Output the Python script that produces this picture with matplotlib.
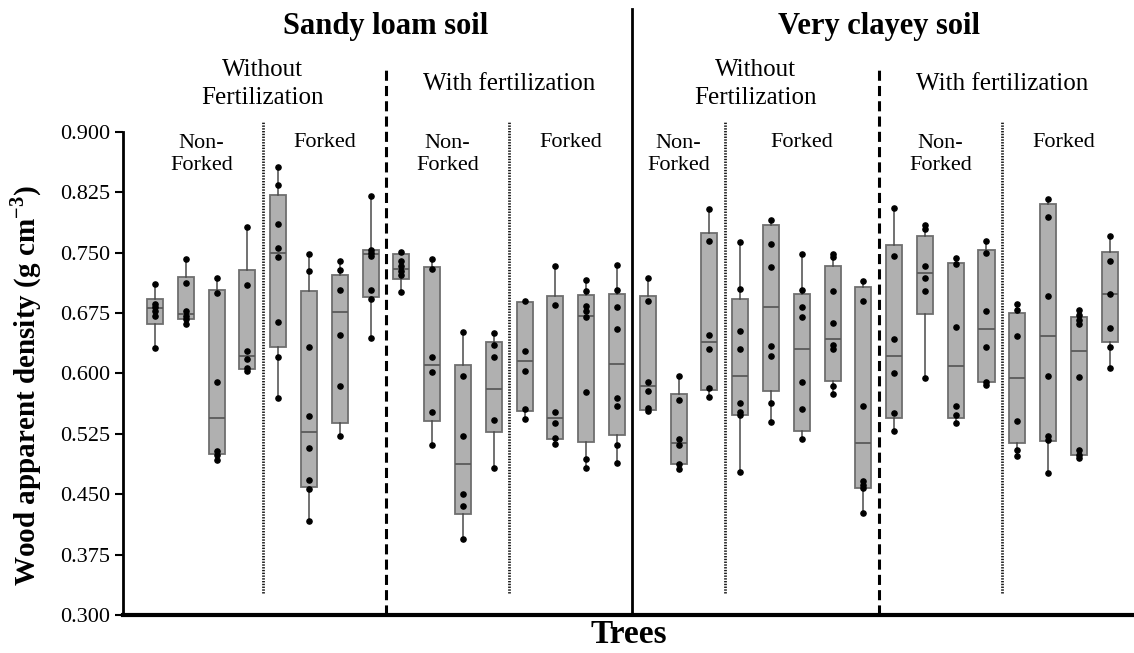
import numpy as np
import matplotlib
matplotlib.use("Agg")
import matplotlib.pyplot as plt

plt.rcParams["font.family"] = ["Liberation Serif", "DejaVu Serif"]
plt.rcParams["mathtext.fontset"] = "custom"
plt.rcParams["mathtext.rm"] = "Liberation Serif"
plt.rcParams["mathtext.bf"] = "Liberation Serif:bold"

# --- box statistics per tree (whisker low, Q1, median, Q3, whisker high) ---
whis_lo = [0.632, 0.661, 0.493, 0.603, 0.570, 0.417, 0.522, 0.644,
           0.701, 0.511, 0.395, 0.482, 0.543, 0.512, 0.482, 0.489,
           0.553, 0.481, 0.571, 0.478, 0.540, 0.519, 0.574, 0.427,
           0.528, 0.594, 0.538, 0.586, 0.498, 0.477, 0.495, 0.607]
q1 = [0.662, 0.668, 0.500, 0.605, 0.633, 0.459, 0.539, 0.695,
      0.717, 0.541, 0.426, 0.527, 0.553, 0.519, 0.515, 0.524,
      0.555, 0.487, 0.579, 0.548, 0.578, 0.528, 0.591, 0.458,
      0.545, 0.674, 0.545, 0.590, 0.514, 0.516, 0.499, 0.639]
median = [0.681, 0.674, 0.545, 0.622, 0.750, 0.527, 0.676, 0.748,
          0.730, 0.611, 0.487, 0.581, 0.616, 0.545, 0.672, 0.612,
          0.584, 0.514, 0.639, 0.597, 0.683, 0.630, 0.643, 0.514,
          0.622, 0.725, 0.609, 0.655, 0.594, 0.646, 0.628, 0.699]
q3 = [0.692, 0.720, 0.704, 0.729, 0.822, 0.703, 0.722, 0.753,
      0.749, 0.732, 0.610, 0.639, 0.689, 0.696, 0.698, 0.699,
      0.696, 0.575, 0.775, 0.692, 0.784, 0.699, 0.734, 0.708,
      0.760, 0.771, 0.737, 0.753, 0.675, 0.811, 0.670, 0.751]
whis_hi = [0.711, 0.742, 0.718, 0.782, 0.856, 0.749, 0.740, 0.820,
           0.751, 0.742, 0.652, 0.650, 0.690, 0.734, 0.716, 0.735,
           0.718, 0.597, 0.804, 0.763, 0.791, 0.749, 0.750, 0.715,
           0.805, 0.785, 0.744, 0.764, 0.686, 0.817, 0.679, 0.771]

# --- individual measurements per tree ---
samples = [
    [0.711, 0.686, 0.682, 0.677, 0.672, 0.632],
    [0.742, 0.713, 0.677, 0.672, 0.668, 0.661],
    [0.718, 0.700, 0.589, 0.504, 0.499, 0.493],
    [0.782, 0.710, 0.628, 0.618, 0.607, 0.603],
    [0.856, 0.834, 0.786, 0.756, 0.745, 0.664, 0.621, 0.570],
    [0.749, 0.727, 0.633, 0.547, 0.507, 0.468, 0.456, 0.417],
    [0.740, 0.728, 0.704, 0.648, 0.585, 0.522],
    [0.820, 0.754, 0.750, 0.746, 0.704, 0.692, 0.644],
    [0.751, 0.740, 0.733, 0.727, 0.722, 0.701],
    [0.742, 0.730, 0.621, 0.602, 0.552, 0.511],
    [0.652, 0.597, 0.522, 0.450, 0.436, 0.395],
    [0.650, 0.636, 0.620, 0.542, 0.482],
    [0.690, 0.628, 0.603, 0.556, 0.543],
    [0.734, 0.685, 0.552, 0.538, 0.520, 0.512],
    [0.716, 0.703, 0.684, 0.677, 0.670, 0.577, 0.494, 0.482],
    [0.735, 0.704, 0.682, 0.655, 0.570, 0.559, 0.511, 0.489],
    [0.718, 0.690, 0.589, 0.578, 0.557, 0.553],
    [0.597, 0.567, 0.519, 0.511, 0.487, 0.481],
    [0.804, 0.765, 0.648, 0.630, 0.582, 0.571],
    [0.763, 0.705, 0.653, 0.631, 0.563, 0.552, 0.548, 0.478],
    [0.791, 0.761, 0.732, 0.634, 0.622, 0.563, 0.540],
    [0.749, 0.704, 0.682, 0.670, 0.589, 0.556, 0.519],
    [0.749, 0.745, 0.703, 0.663, 0.636, 0.630, 0.584, 0.574],
    [0.715, 0.690, 0.560, 0.466, 0.461, 0.458, 0.427],
    [0.805, 0.746, 0.643, 0.601, 0.551, 0.528],
    [0.785, 0.780, 0.733, 0.718, 0.702, 0.594],
    [0.744, 0.736, 0.658, 0.560, 0.549, 0.538],
    [0.764, 0.750, 0.677, 0.633, 0.590, 0.586],
    [0.686, 0.679, 0.647, 0.541, 0.505, 0.498],
    [0.817, 0.795, 0.696, 0.597, 0.522, 0.517, 0.477],
    [0.679, 0.673, 0.667, 0.662, 0.596, 0.505, 0.499, 0.495],
    [0.771, 0.740, 0.699, 0.656, 0.633, 0.607],
]

yticks = [0.300, 0.375, 0.450, 0.525, 0.600, 0.675, 0.750, 0.825, 0.900]

soils = ["Sandy loam soil", "Very clayey soil"]
fert_labels = ["Without\nFertilization", "With fertilization"]
# trees per (soil, fertilization, form) group, in plotting order
group_sizes = [4, 4, 4, 4, 3, 5, 4, 4]
form_labels = ["Non-\nForked", "Forked"]

fig = plt.figure(figsize=(11.34, 6.53), dpi=100)
ax = fig.add_axes([0.1085, 0.0582, 0.8915, 0.7397])

pos = np.arange(len(median))
stats = [dict(whislo=lo, q1=a, med=m, q3=b, whishi=hi)
         for lo, a, m, b, hi in zip(whis_lo, q1, median, q3, whis_hi)]
ax.bxp(stats, positions=pos, widths=0.52, patch_artist=True,
       showcaps=False, showfliers=False,
       boxprops=dict(facecolor="#b0b0b0", edgecolor="#6e6e6e", linewidth=1.3),
       medianprops=dict(color="#5a5a5a", linewidth=1.3),
       whiskerprops=dict(color="#4a4a4a", linewidth=1.1))

for p, vals in zip(pos, samples):
    ax.scatter(np.full(len(vals), p), vals, s=14, color="black", zorder=5)

ax.set_xlim(-1.04, 31.79)
ax.set_ylim(0.3, 0.9)
ax.set_yticks(yticks)
ax.set_yticklabels([f"{t:.3f}" for t in yticks], fontsize=16)
ax.set_xticks([])
ax.tick_params(axis="y", direction="out", length=6, width=1.5)
for side in ("top", "right"):
    ax.spines[side].set_visible(False)
ax.spines["left"].set_linewidth(2)
ax.spines["bottom"].set_linewidth(3)

# group separators
edges = np.cumsum(group_sizes) - 0.5
ax.plot([edges[3], edges[3]], [0.3, 1.0525], color="black", lw=2, clip_on=False)
for e in (edges[1], edges[5]):
    ax.plot([e, e], [0.3, 0.98], color="black", lw=2.2, ls=(0, (3.3, 1.7)),
            clip_on=False)
for e in (edges[0], edges[2], edges[4], edges[6]):
    ax.plot([e, e], [0.327, 0.912], color="#1a1a1a", lw=2, ls=(0, (0.5, 0.5)),
            clip_on=False)

# header labels
starts = np.concatenate([[-0.5], edges])
for s in range(2):
    lo, hi = starts[4 * s], starts[4 * s + 4]
    ax.text((lo + hi) / 2, 1.031, soils[s], ha="center", va="center",
            fontsize=22, fontweight="bold", clip_on=False)
    for f in range(2):
        g0 = 4 * s + 2 * f
        lo, hi = starts[g0], starts[g0 + 2]
        ax.text((lo + hi) / 2, 0.959, fert_labels[f], ha="center", va="center",
                fontsize=18, linespacing=1.35, clip_on=False)
        for k in range(2):
            lo, hi = starts[g0 + k], starts[g0 + k + 1]
            ax.text((lo + hi) / 2, 0.898 if k == 0 else 0.887, form_labels[k],
                    ha="center", va="top" if k == 0 else "center",
                    fontsize=16, linespacing=1.25)

ax.set_ylabel(r"Wood apparent density (g cm$^{\mathbf{-3}}$)", fontsize=21,
              fontweight="bold")
ax.yaxis.set_label_coords(-0.078, 0.475)
ax.set_xlabel("Trees", fontsize=24, fontweight="bold", labelpad=3)

fig.savefig("out.png", dpi=100)
